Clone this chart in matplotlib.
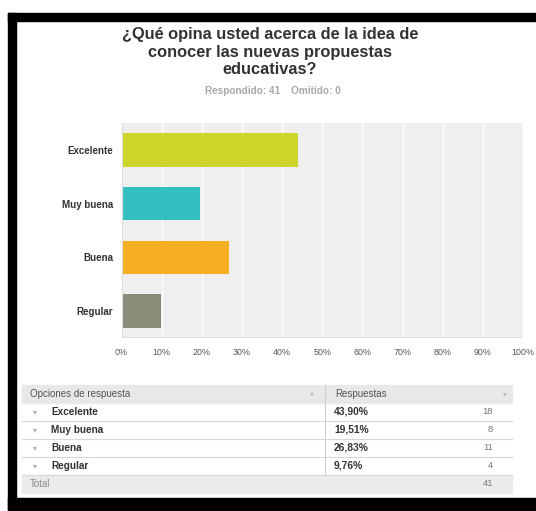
import matplotlib.pyplot as plt
from matplotlib.patches import Rectangle

plt.rcParams['font.family'] = ['Liberation Sans', 'DejaVu Sans']

categories = ['Excelente', 'Muy buena', 'Buena', 'Regular']
percents = [43.90, 19.51, 26.83, 9.76]
counts = [18, 8, 11, 4]
colors = ['#cdd52a', '#33bfc0', '#f6ae22', '#8b8b7a']
xticks = [0, 10, 20, 30, 40, 50, 60, 70, 80, 90, 100]
title = '¿Qué opina usted acerca de la idea de\nconocer las nuevas propuestas\neducativas?'
subtitle = 'Respondido: 41    Omitido: 0'
total = 41

W, H = 536, 511
fig = plt.figure(figsize=(W / 100, H / 100), dpi=100)

# overlay axes in pixel coordinates (y down)
ov = fig.add_axes([0, 0, 1, 1])
ov.set_xlim(0, W)
ov.set_ylim(H, 0)
ov.axis('off')

# black frame
ov.add_patch(Rectangle((8, 13), W - 8, 8, color='black', zorder=5))
ov.add_patch(Rectangle((8, 13), 8, 497, color='black', zorder=5))
ov.add_patch(Rectangle((8, 498), W - 8, 12, color='black', zorder=5))

ov.text(270, 52, title, ha='center', va='center', fontsize=11.8,
        fontweight='bold', color='#333333', linespacing=1.22)
ov.text(273, 91, subtitle, ha='center', va='center', fontsize=7.2,
        fontweight='bold', color='#a8a8a8')

# bar chart
x0, x1, y0, y1 = 121.5, 523, 123, 338
ax = fig.add_axes([x0 / W, 1 - y1 / H, (x1 - x0) / W, (y1 - y0) / H])
ax.set_facecolor('#efefef')
ypos = range(len(categories))
ax.barh(ypos, percents, height=0.62, color=colors, zorder=3)
ax.set_xlim(0, 100)
ax.set_ylim(len(categories) - 0.5, -0.5)
ax.set_xticks(xticks)
ax.set_xticklabels([f'{t}%' for t in xticks], fontsize=6.4, color='#555555')
ax.set_yticks(list(ypos))
ax.set_yticklabels(categories, fontsize=7, fontweight='bold', color='#333333')
ax.tick_params(length=0, pad=7)
ax.tick_params(axis='y', pad=6)
ax.grid(axis='x', color='white', linewidth=0.9, zorder=1)
for s in ax.spines.values():
    s.set_visible(False)
ax.axhline(len(categories) - 0.5, color='#dcdcdc', linewidth=1.2, zorder=4)
ax.axvline(0, color='#dcdcdc', linewidth=0.8, zorder=4)

# table
tl, tr, tdiv = 22, 512, 325
top, hh, rh = 385, 18, 18
ov.add_patch(Rectangle((tl, top), tr - tl, hh, color='#e8e8e8', zorder=2))
ov.text(30, top + hh / 2, 'Opciones de respuesta', fontsize=7, color='#555555', va='center')
ov.text(335, top + hh / 2, 'Respuestas', fontsize=7, color='#555555', va='center')
ov.text(312, top + hh / 2 + 1, '▾', fontsize=5.5, color='#bbbbbb', va='center', ha='center')
ov.text(505, top + hh / 2 + 1, '▾', fontsize=5.5, color='#bbbbbb', va='center', ha='center')
ov.plot([tdiv, tdiv], [top, top + hh + rh * len(categories)], color='#d0d0d0', lw=0.8, zorder=3)
for i, (cat, p, c) in enumerate(zip(categories, percents, counts)):
    yc = top + hh + rh * i + rh / 2
    ov.text(35, yc + 1, '▾', fontsize=5.5, color='#aaaaaa', va='center', ha='center')
    ov.text(51, yc, cat, fontsize=7.2, fontweight='bold', color='#333333', va='center')
    ov.text(334, yc, f'{p:.2f}%'.replace('.', ','), fontsize=7.4, fontweight='bold',
            color='#333333', va='center')
    ov.text(493, yc, str(c), fontsize=6.8, color='#777777', va='center', ha='right')
    yl = top + hh + rh * (i + 1)
    ov.plot([tl, tr], [yl, yl], color='#d8d8d8', lw=0.8, zorder=3)
ty = top + hh + rh * len(categories)
ov.add_patch(Rectangle((tl, ty), tr - tl, rh, color='#ebebeb', zorder=2))
ov.text(30, ty + rh / 2, 'Total', fontsize=7, color='#888888', va='center')
ov.text(493, ty + rh / 2, str(total), fontsize=6.8, color='#777777', va='center', ha='right')

fig.savefig('out.png', dpi=100)
